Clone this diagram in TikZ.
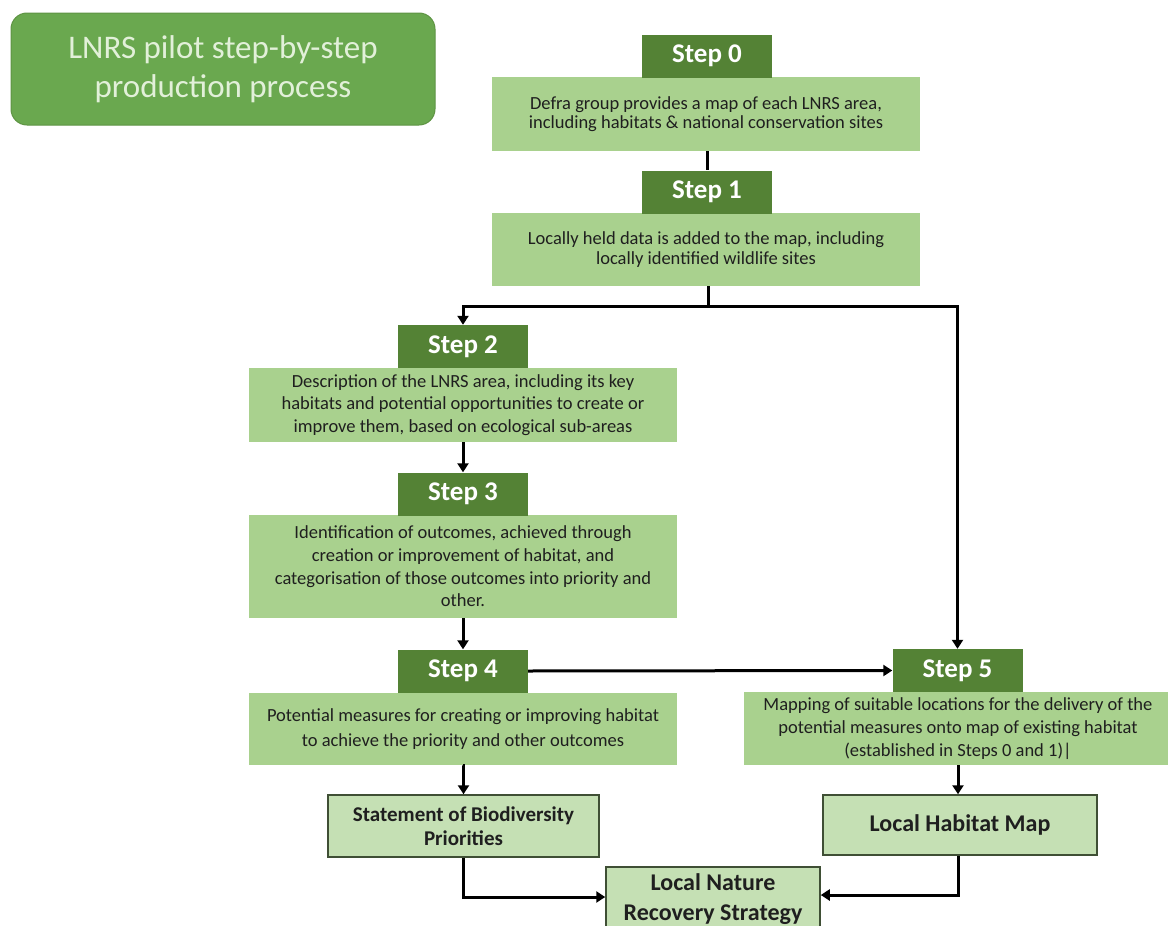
\documentclass[tikz,border=0pt]{standalone}
\usepackage{fontspec}
\setmainfont{Carlito}
\usetikzlibrary{arrows.meta}
\definecolor{hdrgreen}{HTML}{548235}
\definecolor{boxgreen}{HTML}{A9D18E}
\definecolor{outgreen}{HTML}{C5E0B4}
\definecolor{titlegreen}{HTML}{6AA84F}
\definecolor{titleedge}{HTML}{5E9444}
\definecolor{titletext}{HTML}{E2F0D9}
\definecolor{bodytext}{HTML}{1F1F1F}
\definecolor{outline}{HTML}{3F4F35}
\begin{document}
\begin{tikzpicture}[x=1pt,y=-1pt,
  hdr/.style={fill=hdrgreen, text=white, font=\fontsize{27}{30}\selectfont\bfseries,
    minimum width=130pt, minimum height=43pt, inner sep=0pt},
  content/.style={fill=boxgreen, text=bodytext, align=center, minimum width=428pt, inner sep=0pt},
  outbox/.style={fill=outgreen, draw=outline, line width=1.5pt, text=bodytext, align=center, inner sep=0pt},
  conn/.style={line width=3pt, draw=black},
  arr/.style={conn, -{Triangle[width=11pt,length=9pt]}},
]
\useasboundingbox (0,0) rectangle (1168,926);
\clip (0,0) rectangle (1168,926);

% title
\node[draw=titleedge, line width=1pt, fill=titlegreen, rounded corners=16pt,
  minimum width=424pt, minimum height=112pt, inner sep=0pt, text=titletext,
  font=\fontsize{33}{39}\selectfont, align=center] (title) at (223,69)
  {LNRS pilot step-by-step\\production process};

% step 0
\node[content, minimum height=74pt, font=\fontsize{18.5}{19}\selectfont] (c0) at (706,114)
  {Defra group provides a map of each LNRS area,\\including habitats \& national conservation sites};
\node[hdr] (h0) at (707,56) {Step 0};

% step 1
\node[content, minimum height=73pt, font=\fontsize{18.5}{20}\selectfont] (c1) at (706,249.5)
  {Locally held data is added to the map, including\\locally identified wildlife sites};
\node[hdr] (h1) at (707,192) {Step 1};

% step 2
\node[content, minimum height=74pt, font=\fontsize{18.5}{22.5}\selectfont] (c2) at (463,405)
  {Description of the LNRS area, including its key\\habitats and potential opportunities to create or\\improve them, based on ecological sub-areas};
\node[hdr] (h2) at (463,346.5) {Step 2};

% step 3
\node[content, minimum height=103pt, font=\fontsize{18.5}{22.7}\selectfont] (c3) at (463,566.5)
  {Identification of outcomes, achieved through\\creation or improvement of habitat, and\\categorisation of those outcomes into priority and\\other.};
\node[hdr] (h3) at (463,494) {Step 3};

% step 4
\node[content, minimum height=72pt, font=\fontsize{18.5}{24.5}\selectfont] (c4) at (463,729)
  {Potential measures for creating or improving habitat\\to achieve the priority and other outcomes};
\node[hdr] (h4) at (463,671) {Step 4};

% step 5
\node[content, minimum height=73pt, font=\fontsize{18.5}{23}\selectfont] (c5) at (958,728.5)
  {Mapping of suitable locations for the delivery of the\\potential measures onto map of existing habitat\\(established in Steps 0 and 1)|};
\node[hdr] (h5) at (957.5,670.5) {Step 5};

% outputs
\node[outbox, minimum width=271pt, minimum height=62pt, font=\fontsize{21}{24}\selectfont\bfseries] (sbp) at (463.5,826)
  {Statement of Biodiversity\\Priorities};
\node[outbox, minimum width=274pt, minimum height=60pt, font=\fontsize{24}{28}\selectfont\bfseries] (lhm) at (960,825)
  {Local Habitat Map};
\node[outbox, minimum width=214pt, minimum height=64pt, font=\fontsize{24}{30}\selectfont\bfseries] (lnrs) at (713,899)
  {Local Nature\\Recovery Strategy};

% connectors
\draw[conn] (c0.south -| h0) -- (h1.north);
\coordinate (j) at (708,306);
\draw[conn] (j |- c1.south) -- (j);
\draw[arr] (j) -| (h2.north);
\draw[arr] (j) -| (h5.north);
\draw[arr] (c2.south) -- (h3.north);
\draw[arr] (c3.south) -- (h4.north);
\draw[arr] (h4.east) -- (h5.west);
\draw[arr] (c4.south) -- (sbp.south |- c4.south) -- (sbp.north);
\draw[arr] (c5.south) -- (lhm.north -| c5.south);
\draw[arr] (sbp.south) |- ([yshift=2pt]lnrs.west);
\draw[arr] (lhm.south -| c5.south) |- ([yshift=4pt]lnrs.east);
\end{tikzpicture}
\end{document}
